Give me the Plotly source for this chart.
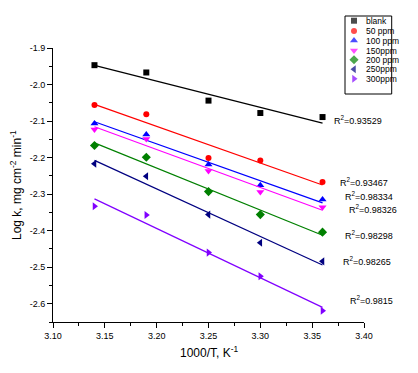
import numpy as np
import plotly.graph_objects as go

# ---- data ----
temps_inv = [3.14, 3.19, 3.25, 3.30, 3.36]
series_names = ["blank", "50 ppm", "100 ppm", "150ppm", "200 ppm", "250ppm", "300ppm"]
blank = [-1.947, -1.967, -2.044, -2.078, -2.089]
ppm50 = [-2.056, -2.081, -2.201, -2.208, -2.267]
ppm100 = [-2.107, -2.137, -2.219, -2.276, -2.315]
ppm150 = [-2.123, -2.149, -2.237, -2.294, -2.336]
ppm200 = [-2.167, -2.199, -2.293, -2.356, -2.404]
ppm250 = [-2.217, -2.251, -2.356, -2.433, -2.484]
ppm300 = [-2.333, -2.357, -2.460, -2.525, -2.619]
r2_labels = ["0.93529", "0.93467", "0.98334", "0.98326", "0.98298", "0.98265", "0.9815"]
y_ticks = [-1.9, -2.0, -2.1, -2.2, -2.3, -2.4, -2.5, -2.6]
x_ticks = [3.10, 3.15, 3.20, 3.25, 3.30, 3.35, 3.40]

all_series = [blank, ppm50, ppm100, ppm150, ppm200, ppm250, ppm300]
colors = ["#000000", "#FF0000", "#0000FF", "#FF00FF", "#008000", "#000080", "#8000FF"]
symbols = ["square", "circle", "triangle-up", "triangle-down", "diamond", "triangle-left", "triangle-right"]
sizes = [6, 6, 7, 7, 7, 7, 7]

OFF = 8                              # page body margin of the html
W, H = 418 - OFF, 373 - OFF
L, R, T, B = 53, 364, 48, 322        # main plot area in reference (window) px
OT, OR = 10, 413                     # outer area for the helper (pixel) axes

def paper_x(p):
    return (p - L) / (OR - L)

def paper_y(p):
    return (B - p) / (B - OT)

fig = go.Figure()
xs = np.array(temps_inv)
for name, ys, c, s, sz in zip(series_names, all_series, colors, symbols, sizes):
    k, b = np.polyfit(xs, np.array(ys), 1)
    xl = np.array([xs.min(), xs.max()])
    fig.add_trace(go.Scatter(x=xl, y=k * xl + b, mode="lines",
                             line=dict(color=c, width=1.2), showlegend=False, hoverinfo="skip"))
    fig.add_trace(go.Scatter(x=temps_inv, y=ys, mode="markers", name=name,
                             marker=dict(symbol=s, color=c, size=sz, line=dict(width=0)),
                             showlegend=False))

# custom compact legend, drawn on a pixel-coordinate helper axis
leg_rows_px = [20.7, 31.0, 40.5, 50.5, 59.7, 69.3, 78.7]
fig.add_trace(go.Scatter(
    x=[354] * len(series_names), y=leg_rows_px,
    mode="markers", xaxis="x2", yaxis="y2", showlegend=False, hoverinfo="skip",
    marker=dict(symbol=symbols, color=colors, size=sizes, line=dict(width=0))))

annotations = []
for name, yy in zip(series_names, leg_rows_px):
    annotations.append(dict(x=364, y=yy, xref="x2", yref="y2", text=name,
                            showarrow=False, xanchor="left", yanchor="middle",
                            font=dict(family="Liberation Sans, Arial", size=8.5, color="#000")))

# R^2 labels
r2_pos = [(331.7, 120), (337.7, 181.7), (342.7, 196), (346.7, 209.3),
          (342.7, 234.7), (341, 261), (348.3, 300)]
for lab, (ax_, ay_) in zip(r2_labels, r2_pos):
    annotations.append(dict(x=ax_, y=ay_, xref="x2", yref="y2",
                            text="R<sup>2</sup>=" + lab, showarrow=False,
                            xanchor="left", yanchor="middle",
                            font=dict(family="Liberation Sans, Arial", size=9, color="#000")))

# axis titles
titlefont = dict(family="Liberation Sans, Arial", size=12, color="#000")
annotations.append(dict(x=paper_x((L + R) / 2), y=paper_y(352), xref="paper", yref="paper",
                        text="1000/T, K<sup>-1</sup>",
                        showarrow=False, xanchor="center", yanchor="middle", font=titlefont))
annotations.append(dict(x=paper_x(16), y=paper_y((T + B) / 2), xref="paper", yref="paper",
                        text="Log k, mg cm<sup>-2</sup> min<sup>-1</sup>", textangle=-90,
                        showarrow=False, xanchor="center", yanchor="middle", font=titlefont))

shapes = [dict(type="rect", xref="x2", yref="y2",
               x0=345, x1=391.7, y0=94, y1=16,
               line=dict(color="black", width=1), fillcolor="rgba(0,0,0,0)")]

tickfont = dict(family="Liberation Sans, Arial", size=9, color="#000")
fig.update_layout(
    width=W, height=H,
    margin=dict(l=L - OFF, r=W - (OR - OFF), t=OT - OFF, b=H - (B - OFF), autoexpand=False),
    plot_bgcolor="rgba(0,0,0,0)", paper_bgcolor="white",
    showlegend=False,
    annotations=annotations, shapes=shapes,
    xaxis=dict(domain=[0, (R - L) / (OR - L)], automargin=False,
               range=[3.10, 3.40], tickvals=x_ticks, ticktext=[f"{v:.2f}" for v in x_ticks],
               ticks="outside", ticklen=5, tickwidth=1, tickcolor="black",
               minor=dict(dtick=0.025, tick0=3.10, ticks="outside", ticklen=3, tickcolor="black"),
               showline=True, linecolor="black", linewidth=1, showgrid=False, zeroline=False,
               tickfont=tickfont),
    yaxis=dict(domain=[0, (B - T) / (B - OT)], automargin=False,
               range=[-2.65, -1.9], tickvals=y_ticks, ticktext=[f"{v:.1f}" for v in y_ticks],
               ticks="outside", ticklen=5, tickwidth=1, tickcolor="black",
               minor=dict(dtick=0.05, tick0=-1.9, ticks="outside", ticklen=3, tickcolor="black"),
               showline=True, linecolor="black", linewidth=1, showgrid=False, zeroline=False,
               tickfont=tickfont),
    xaxis2=dict(domain=[0, 1], range=[L, OR], anchor="y2", visible=False, fixedrange=True),
    yaxis2=dict(domain=[0, 1], range=[B, OT], anchor="x2", visible=False, fixedrange=True),
)

fig.write_html("out.html")
